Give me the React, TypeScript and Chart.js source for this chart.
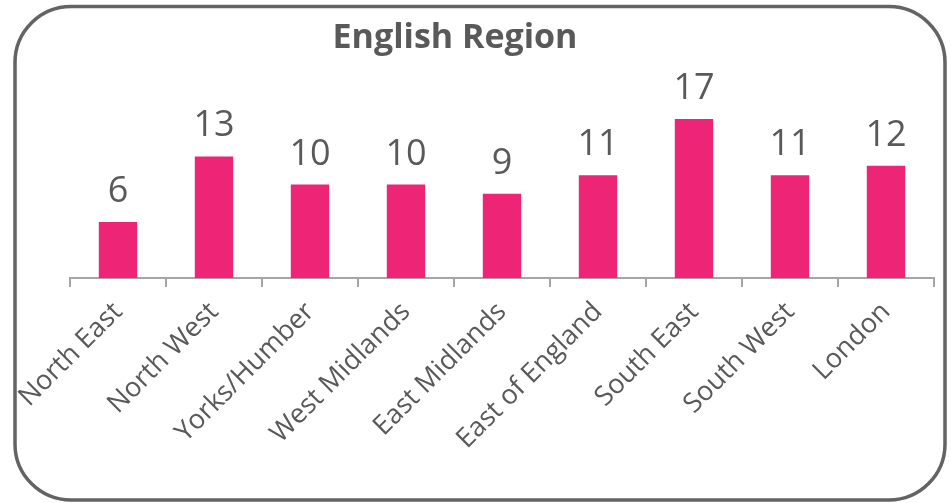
import React, { useEffect, useRef } from 'react';
import { Chart, registerables } from 'chart.js';

Chart.register(...registerables);

const chartTitle = 'English Region';
const categories = [
  'North East',
  'North West',
  'Yorks/Humber',
  'West Midlands',
  'East Midlands',
  'East of England',
  'South East',
  'South West',
  'London',
];
const values = [6, 13, 10, 10, 9, 11, 17, 11, 12];
const yMin = 0;
const yMax = 20;

const FONT = "'Open Sans', 'Noto Sans', sans-serif";
const TEXT = '#595959';
const BAR = '#EE2476';
const AXIS = '#A6A6A6';

const frameAndLabels = {
  id: 'frameAndLabels',
  beforeDraw(chart: any) {
    const ctx = chart.ctx;
    ctx.save();
    ctx.fillStyle = '#ffffff';
    ctx.fillRect(0, 0, chart.width, chart.height);
    const x0 = 15, y0 = 6.5, x1 = 945, y1 = 500, r = 56;
    ctx.beginPath();
    ctx.moveTo(x0 + r, y0);
    ctx.lineTo(x1 - r, y0);
    ctx.arcTo(x1, y0, x1, y0 + r, r);
    ctx.lineTo(x1, y1 - r);
    ctx.arcTo(x1, y1, x1 - r, y1, r);
    ctx.lineTo(x0 + r, y1);
    ctx.arcTo(x0, y1, x0, y1 - r, r);
    ctx.lineTo(x0, y0 + r);
    ctx.arcTo(x0, y0, x0 + r, y0, r);
    ctx.closePath();
    ctx.lineWidth = 3.5;
    ctx.strokeStyle = '#636363';
    ctx.stroke();

    ctx.fillStyle = TEXT;
    ctx.font = `bold 34px ${FONT}`;
    ctx.textAlign = 'center';
    ctx.textBaseline = 'alphabetic';
    ctx.fillText(chartTitle, 455, 48);
    ctx.restore();
  },
  afterDatasetsDraw(chart: any) {
    const ctx = chart.ctx;
    const meta = chart.getDatasetMeta(0);
    ctx.save();
    ctx.fillStyle = TEXT;
    ctx.font = `36px ${FONT}`;
    ctx.textAlign = 'center';
    ctx.textBaseline = 'alphabetic';
    meta.data.forEach((bar: any, i: number) => {
      ctx.fillText(String(chart.data.datasets[0].data[i]), bar.x, bar.y - 20);
    });
    ctx.restore();
  },
};

export default function App() {
  const ref = useRef<HTMLCanvasElement | null>(null);

  useEffect(() => {
    if (!ref.current) return;
    const chart = new Chart(ref.current, {
      type: 'bar',
      data: {
        labels: categories,
        datasets: [
          {
            data: values,
            backgroundColor: BAR,
            borderWidth: 0,
            barPercentage: 0.4,
            categoryPercentage: 1,
          },
        ],
      },
      options: {
        animation: false,
        responsive: false,
        devicePixelRatio: 1,
        layout: { padding: { left: 70, right: 17, top: 91, bottom: 0 } },
        plugins: {
          legend: { display: false },
          title: { display: false },
          tooltip: { enabled: false },
        },
        scales: {
          x: {
            grid: {
              display: true,
              drawOnChartArea: false,
              drawTicks: true,
              tickLength: 9,
              color: AXIS,
              lineWidth: 2,
              offset: true,
            },
            border: { display: true, color: AXIS, width: 2 },
            ticks: {
              autoSkip: false,
              minRotation: 45,
              maxRotation: 45,
              color: TEXT,
              padding: 9,
              font: { family: FONT, size: 27 },
            },
            afterFit(scale: any) {
              scale.height = 225;
              scale.paddingLeft = 0;
              scale.paddingRight = 0;
            },
          },
          y: {
            display: false,
            min: yMin,
            max: yMax,
          },
        },
      },
      plugins: [frameAndLabels],
    });
    return () => chart.destroy();
  }, []);

  return (
    <div style={{ position: 'absolute', left: 0, top: 0, width: 951, height: 503 }}>
      <canvas ref={ref} width={951} height={503} />
    </div>
  );
}
